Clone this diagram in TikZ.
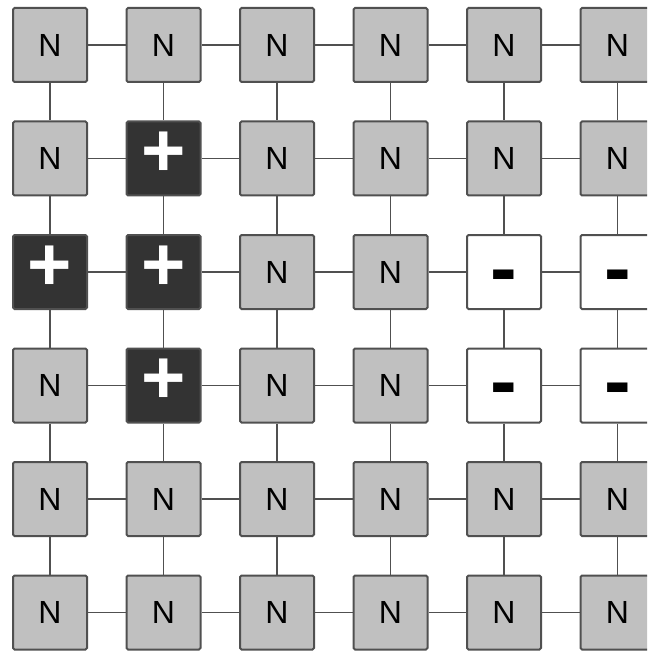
\documentclass[tikz,border=0pt]{standalone}
\usepackage{fontspec}
\setmainfont{Liberation Sans}
\usetikzlibrary{positioning}
\definecolor{cellgray}{HTML}{C0C0C0}
\definecolor{celldark}{HTML}{333333}
\definecolor{edgegray}{HTML}{505050}

\tikzset{
  cell/.style={draw=edgegray, line width=2pt, rounded corners=1.5pt,
               minimum size=74pt, inner sep=0pt},
  n/.style={cell, fill=cellgray, font=\fontsize{32}{32}\selectfont},
  p/.style={cell, fill=celldark, text=white, font=\fontsize{76}{76}\selectfont\bfseries},
  m/.style={cell, fill=white, font=\fontsize{80}{80}\selectfont\bfseries},
  link/.style={draw=edgegray, line width=1.6pt}
}
\newcommand{\plussign}{\raisebox{-18pt}[0pt][0pt]{+}}
\newcommand{\minussign}{\raisebox{-23pt}[0pt][0pt]{-}}

\begin{document}
\begin{tikzpicture}[x=1pt, y=-1pt]
  \useasboundingbox (0,0) rectangle (647,652);
  \clip (0,0) rectangle (647,652);
  % cells, row by row
  \foreach \row [count=\r from 0] in {
      {n/N,n/N,n/N,n/N,n/N,n/N},
      {n/N,p/\plussign,n/N,n/N,n/N,n/N},
      {p/\plussign,p/\plussign,n/N,n/N,m/\minussign,m/\minussign},
      {n/N,p/\plussign,n/N,n/N,m/\minussign,m/\minussign},
      {n/N,n/N,n/N,n/N,n/N,n/N},
      {n/N,n/N,n/N,n/N,n/N,n/N}} {
    \foreach \s/\t [count=\c from 0] in \row {
      \node[\s] (cell-\r-\c) at ({50+113.5*\c}, {45+113.5*\r}) {\t};
    }
  }
  % links between neighbours
  \foreach \r in {0,...,5} {
    \foreach \c in {0,...,4} {
      \pgfmathtruncatemacro{\cc}{\c+1}
      \draw[link] (cell-\r-\c) -- (cell-\r-\cc);
      \draw[link] (cell-\c-\r) -- (cell-\cc-\r);
    }
  }
\end{tikzpicture}
\end{document}
